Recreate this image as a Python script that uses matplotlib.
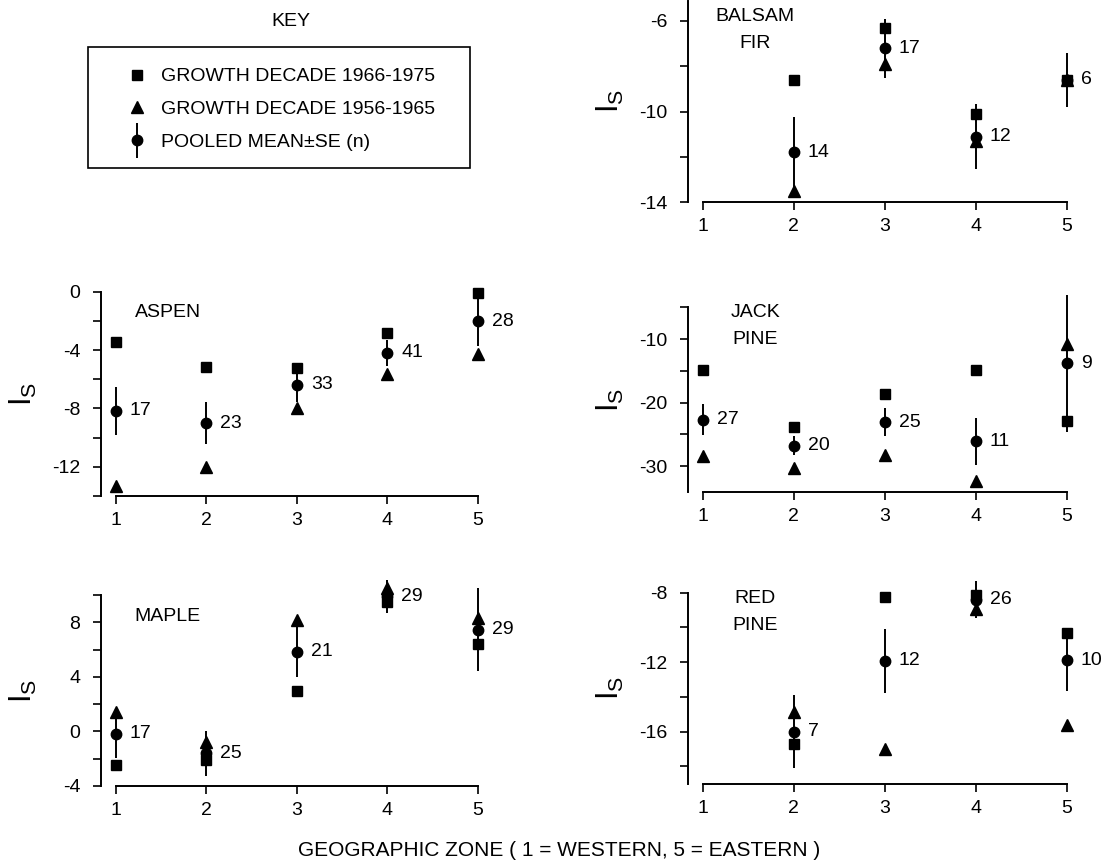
import numpy as np
import matplotlib.pyplot as plt
from matplotlib.container import ErrorbarContainer
from matplotlib.legend_handler import HandlerErrorbar
from matplotlib.patches import Rectangle

plt.rcParams['font.family'] = ['Liberation Sans', 'DejaVu Sans']
plt.rcParams['mathtext.default'] = 'regular'
plt.rcParams['axes.unicode_minus'] = False

nan = np.nan
zones = [1, 2, 3, 4, 5]

# balsam fir
balsam_1966 = [nan, -8.6, -6.3, -10.1, -8.6]
balsam_1956 = [nan, -13.5, -7.9, -11.3, -8.6]
balsam_mean = [nan, -11.8, -7.2, -11.1, -8.6]
balsam_se = [nan, 1.55, 1.3, 1.45, 1.2]
balsam_n = [None, 14, 17, 12, 6]

# aspen
aspen_1966 = [-3.45, -5.17, -5.2, -2.8, -0.1]
aspen_1956 = [-13.3, -12.0, -8.0, -5.63, -4.25]
aspen_mean = [-8.16, -9.0, -6.37, -4.2, -2.02]
aspen_se = [1.65, 1.45, 1.2, 0.9, 1.7]
aspen_n = [17, 23, 33, 41, 28]

# jack pine
jack_1966 = [-14.8, -23.8, -18.7, -14.9, -22.9]
jack_1956 = [-28.4, -30.3, -28.3, -32.3, -10.8]
jack_mean = [-22.65, -26.8, -23.1, -26.1, -13.8]
jack_se = [2.4, 1.5, 2.2, 3.7, 10.8]
jack_n = [27, 20, 25, 11, 9]

# maple
maple_1966 = [-2.45, -2.1, 3.0, 9.5, 6.4]
maple_1956 = [1.4, -0.8, 8.15, 10.5, 8.35]
maple_mean = [-0.17, -1.6, 5.85, 9.9, 7.45]
maple_se = [1.75, 1.65, 1.85, 1.2, 3.05]
maple_n = [17, 25, 21, 29, 29]

# red pine
red_1966 = [nan, -16.7, -8.27, -8.13, -10.3]
red_1956 = [nan, -14.85, -17.0, -8.96, -15.6]
red_mean = [nan, -16.0, -11.93, -8.4, -11.88]
red_se = [nan, 2.1, 1.85, 1.07, 1.8]
red_n = [None, 7, 12, 26, 10]

key_labels = ['GROWTH DECADE 1966-1975', 'GROWTH DECADE 1956-1965',
              'POOLED MEAN\u00b1SE (n)']

W, H = 1119, 867
FS = 14


def px_axes(left, top, right, bottom):
    return fig.add_axes([left / W, 1 - bottom / H,
                         (right - left) / W, (bottom - top) / H])


def draw_panel(ax, name, sq, tri, mean, se, n, ylim, major, minor, name_y):
    ax.set_xlim(0.83, 5.2)
    ax.set_ylim(*ylim)
    eb = ax.errorbar(zones, mean, yerr=se, fmt='o', color='k', ms=7.5,
                     elinewidth=1.4, capsize=0, zorder=3)
    for part in eb.lines[2]:
        part.set_clip_on(False)
    eb.lines[0].set_clip_on(False)
    s, = ax.plot(zones, sq, 's', color='k', ms=7, clip_on=False, zorder=4)
    t, = ax.plot(zones, tri, '^', color='k', ms=8.5, clip_on=False, zorder=4)
    for x, y, k in zip(zones, mean, n):
        if k is not None:
            ax.annotate(str(k), (x, y), xytext=(10, 0),
                        textcoords='offset points', va='center',
                        fontsize=FS)
    ax.text(0.17, name_y, name, transform=ax.transAxes, ha='center',
            va='center', fontsize=FS, linespacing=1.75)

    for side in ['top', 'right']:
        ax.spines[side].set_visible(False)
    ax.spines['bottom'].set_bounds(1, 5)
    ax.spines['left'].set_linewidth(1.4)
    ax.spines['bottom'].set_linewidth(1.4)
    ax.set_xticks(zones)
    ax.set_yticks(major)
    ax.set_yticks(minor, minor=True)
    ax.tick_params(which='both', direction='out', length=5.5, width=1.2,
                   labelsize=FS, color='k')
    ax.tick_params(axis='y', pad=9)
    ax.tick_params(axis='x', pad=6)
    ax.set_ylabel(r'$I_S$', fontsize=22)
    ax.yaxis.set_label_coords(-0.155, 0.5)
    return s, t, eb


fig = plt.figure(figsize=(W / 100, H / 100), dpi=100)

ax_balsam = px_axes(687.5, 0.6, 1085, 202.3)
draw_panel(ax_balsam, 'BALSAM\nFIR', balsam_1966, balsam_1956, balsam_mean,
           balsam_se, balsam_n, (-14, -5.1), [-6, -10, -14], [-8, -12], 0.855)

ax_aspen = px_axes(100.6, 291.7, 496, 496)
handles = draw_panel(ax_aspen, 'ASPEN', aspen_1966, aspen_1956, aspen_mean,
                     aspen_se, aspen_n, (-14, 0), [0, -4, -8, -12],
                     [-2, -6, -10, -14], 0.9)

ax_jack = px_axes(687.5, 307.3, 1085, 491.7)
draw_panel(ax_jack, 'JACK\nPINE', jack_1966, jack_1956, jack_mean, jack_se,
           jack_n, (-34, -5), [-10, -20, -30], [-5, -15, -25], 0.9)

ax_maple = px_axes(100.6, 595, 496, 786)
draw_panel(ax_maple, 'MAPLE', maple_1966, maple_1956, maple_mean, maple_se,
           maple_n, (-4, 10), [8, 4, 0, -4], [10, 6, 2, -2], 0.885)

ax_red = px_axes(687.5, 592.7, 1085, 783.8)
draw_panel(ax_red, 'RED\nPINE', red_1966, red_1956, red_mean, red_se, red_n,
           (-19, -8), [-8, -12, -16], [-10, -14, -18], 0.9)

fig.text(291 / W, 1 - 22 / H, 'KEY', ha='center', va='center', fontsize=FS)

# key frame, entries placed by the legend inside it
fig.add_artist(Rectangle((88 / W, 1 - 168 / H), 382 / W, 121 / H,
                         transform=fig.transFigure, fill=False,
                         edgecolor='k', linewidth=1.2))
fig.legend(handles=list(handles), labels=key_labels, loc='upper left',
           bbox_to_anchor=(112 / W, 1 - 62 / H), borderaxespad=0,
           fontsize=FS, frameon=False, borderpad=0.3,
           labelspacing=0.78, handlelength=2.0, handletextpad=0.2,
           numpoints=1,
           handler_map={ErrorbarContainer: HandlerErrorbar(yerr_size=0.9)})

fig.text(0.5, 1 - 851 / H, 'GEOGRAPHIC ZONE ( 1 = WESTERN, 5 = EASTERN )',
         ha='center', va='center', fontsize=15)

fig.savefig('out.png', dpi=100)
